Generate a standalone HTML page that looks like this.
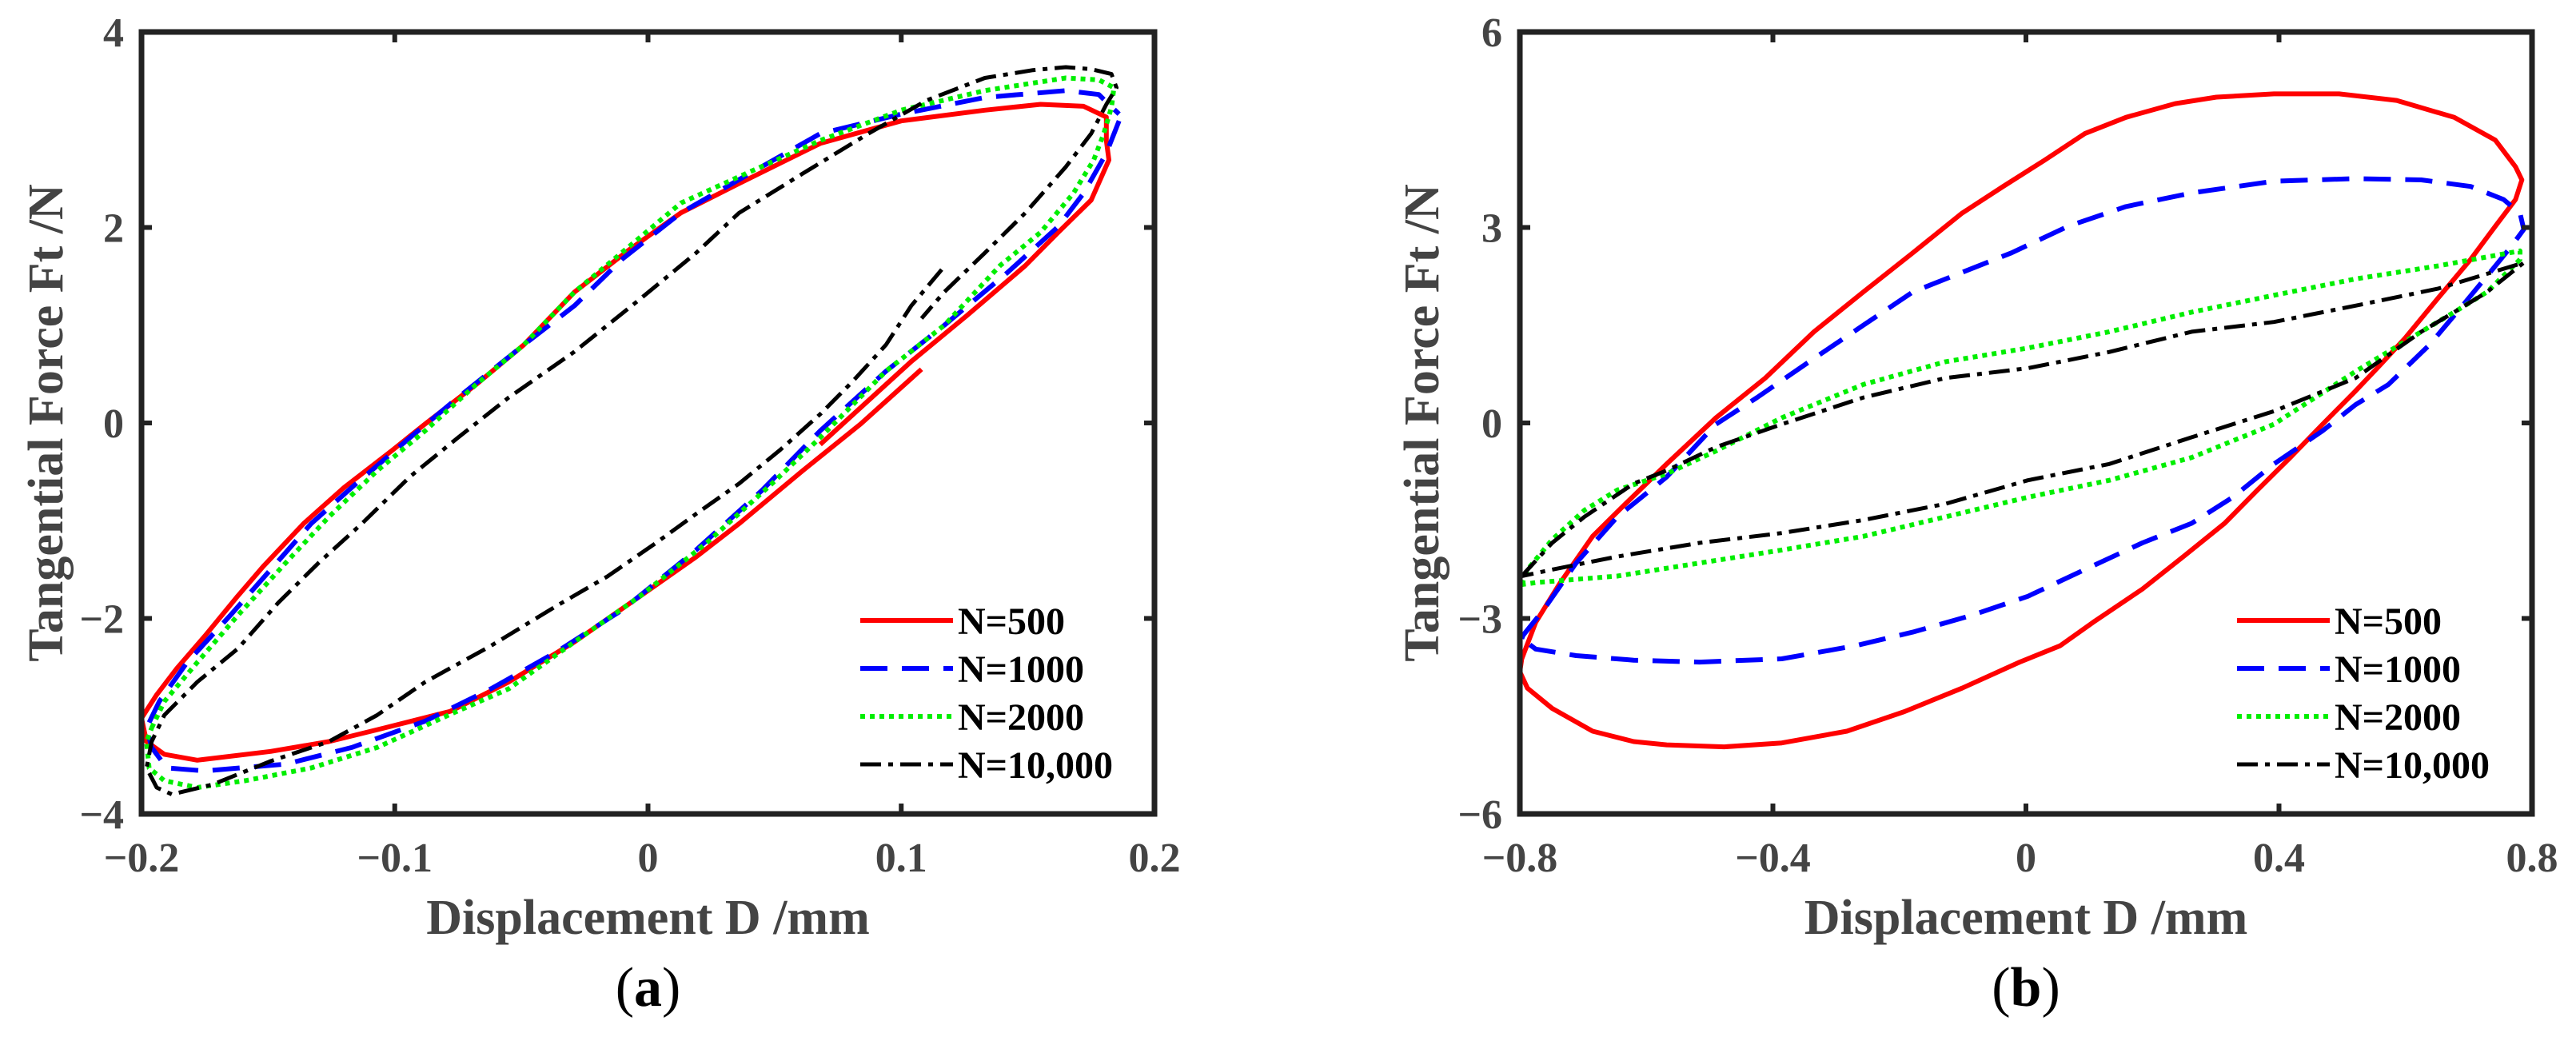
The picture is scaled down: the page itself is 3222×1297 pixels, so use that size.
<!DOCTYPE html>
<html><head><meta charset="utf-8"><style>
html,body{margin:0;padding:0;background:#fff;}
svg{display:block;}
</style></head><body>
<svg id="fig" width="3222" height="1297" viewBox="0 0 3222 1297" xmlns="http://www.w3.org/2000/svg"></svg>
<script>
// ---- Panel (a) data ----
const aXTicks = [-0.2, -0.1, 0, 0.1, 0.2];
const aXTickLabels = ["\u22120.2", "\u22120.1", "0", "0.1", "0.2"];
const aYTicks = [-4, -2, 0, 2, 4];
const aYTickLabels = ["\u22124", "\u22122", "0", "2", "4"];
const aRedX = [0.108,0.084,0.061,0.036,0.019,-0.003,-0.029,-0.055,-0.078,-0.104,-0.126,-0.149,-0.178,-0.191,-0.198,-0.2,-0.194,-0.186,-0.175,-0.162,-0.152,-0.136,-0.12,-0.101,-0.088,-0.068,-0.049,-0.029,-0.007,0.013,0.036,0.068,0.100,0.133,0.155,0.172,0.181,0.181,0.182,0.175,0.162,0.149,0.126,0.104,0.068];
const aRedY = [0.55,-0.01,-0.49,-1.03,-1.37,-1.77,-2.24,-2.65,-2.95,-3.12,-3.26,-3.36,-3.45,-3.39,-3.26,-3.02,-2.78,-2.51,-2.18,-1.77,-1.47,-1.03,-0.66,-0.28,-0.01,0.39,0.80,1.34,1.78,2.15,2.45,2.86,3.09,3.20,3.26,3.24,3.13,2.89,2.69,2.28,1.95,1.61,1.10,0.63,-0.22];
const aBlueX = [0.186,0.181,0.172,0.162,0.142,0.117,0.094,0.068,0.045,0.019,-0.010,-0.036,-0.062,-0.088,-0.117,-0.143,-0.175,-0.190,-0.196,-0.198,-0.193,-0.182,-0.165,-0.149,-0.133,-0.117,-0.094,-0.075,-0.049,-0.029,-0.010,0.013,0.036,0.068,0.100,0.133,0.165,0.178,0.186];
const aBlueY = [3.09,2.76,2.35,2.01,1.54,1.00,0.53,-0.08,-0.69,-1.30,-1.91,-2.34,-2.72,-3.05,-3.32,-3.49,-3.56,-3.53,-3.32,-3.12,-2.85,-2.45,-1.97,-1.50,-1.03,-0.66,-0.15,0.26,0.80,1.20,1.68,2.15,2.49,2.96,3.16,3.33,3.40,3.36,3.16];
const aGreenX = [-0.196,-0.191,-0.178,-0.162,-0.143,-0.126,-0.107,-0.088,-0.068,-0.049,-0.029,-0.010,0.013,0.036,0.068,0.100,0.133,0.165,0.178,0.184,0.183,0.180,0.176,0.168,0.155,0.139,0.117,0.094,0.068,0.049,0.023,-0.003,-0.029,-0.055,-0.078,-0.107,-0.133,-0.159,-0.178,-0.191,-0.197,-0.198,-0.196];
const aGreenY = [-3.12,-2.85,-2.45,-1.97,-1.43,-0.96,-0.49,-0.08,0.39,0.80,1.34,1.75,2.25,2.52,2.89,3.20,3.40,3.53,3.51,3.43,3.23,2.96,2.69,2.35,1.95,1.61,1.00,0.53,-0.15,-0.62,-1.23,-1.77,-2.24,-2.72,-2.98,-3.32,-3.53,-3.66,-3.73,-3.66,-3.53,-3.26,-3.12];
const aBlackX = [0.116,0.104,0.094,0.081,0.068,0.052,0.036,0.019,0.003,-0.016,-0.036,-0.062,-0.088,-0.107,-0.126,-0.149,-0.172,-0.188,-0.194,-0.198,-0.196,-0.191,-0.178,-0.162,-0.146,-0.130,-0.113,-0.094,-0.075,-0.055,-0.029,-0.003,0.019,0.036,0.061,0.087,0.110,0.133,0.152,0.165,0.175,0.183,0.185,0.181,0.175,0.165,0.149,0.133,0.117,0.108];
const aBlackY = [1.57,1.20,0.80,0.43,0.09,-0.28,-0.62,-0.93,-1.23,-1.57,-1.87,-2.28,-2.65,-2.99,-3.26,-3.46,-3.70,-3.80,-3.73,-3.53,-3.26,-2.99,-2.65,-2.31,-1.84,-1.43,-1.03,-0.55,-0.15,0.26,0.73,1.27,1.74,2.15,2.55,2.96,3.30,3.53,3.61,3.64,3.62,3.57,3.43,3.26,2.96,2.62,2.15,1.74,1.34,1.07];

// ---- Panel (b) data ----
const bXTicks = [-0.8, -0.4, 0, 0.4, 0.8];
const bXTickLabels = ["\u22120.8", "\u22120.4", "0", "0.4", "0.8"];
const bYTicks = [-6, -3, 0, 3, 6];
const bYTickLabels = ["\u22126", "\u22123", "0", "3", "6"];
const bRedX = [-0.797,-0.775,-0.736,-0.685,-0.633,-0.568,-0.490,-0.412,-0.335,-0.257,-0.179,-0.101,-0.036,0.029,0.093,0.158,0.236,0.301,0.392,0.495,0.586,0.677,0.742,0.774,0.784,0.774,0.742,0.703,0.651,0.599,0.560,0.521,0.469,0.418,0.366,0.314,0.249,0.184,0.106,0.054,-0.010,-0.101,-0.192,-0.283,-0.386,-0.477,-0.568,-0.620,-0.685,-0.749,-0.788,-0.800,-0.797];
const bRedY = [-3.62,-3.06,-2.45,-1.74,-1.24,-0.63,0.08,0.69,1.40,2.01,2.61,3.22,3.63,4.03,4.44,4.69,4.90,5.00,5.05,5.05,4.95,4.69,4.34,3.93,3.73,3.43,3.02,2.51,1.91,1.30,0.89,0.49,-0.02,-0.53,-1.03,-1.54,-2.05,-2.55,-3.06,-3.42,-3.67,-4.07,-4.43,-4.73,-4.91,-4.97,-4.94,-4.89,-4.73,-4.38,-4.07,-3.82,-3.62];
const bBlueX = [-0.797,-0.795,-0.762,-0.711,-0.646,-0.568,-0.490,-0.425,-0.335,-0.257,-0.179,-0.101,-0.023,0.067,0.158,0.262,0.392,0.521,0.625,0.703,0.755,0.781,0.787,0.768,0.742,0.690,0.638,0.573,0.521,0.469,0.392,0.327,0.262,0.184,0.093,0.003,-0.088,-0.179,-0.270,-0.386,-0.516,-0.620,-0.711,-0.775,-0.797];
const bBlueY = [-3.31,-3.26,-2.86,-2.15,-1.44,-0.83,-0.02,0.39,0.99,1.50,2.01,2.31,2.61,3.02,3.32,3.53,3.71,3.75,3.73,3.63,3.43,3.22,2.97,2.72,2.41,1.80,1.20,0.59,0.28,-0.12,-0.63,-1.14,-1.54,-1.84,-2.25,-2.66,-2.96,-3.21,-3.42,-3.62,-3.67,-3.64,-3.57,-3.47,-3.31];
const bGreenX = [-0.797,-0.788,-0.749,-0.698,-0.646,-0.568,-0.490,-0.386,-0.257,-0.127,0.003,0.132,0.262,0.392,0.521,0.651,0.781,0.781,0.729,0.677,0.625,0.521,0.392,0.262,0.132,0.003,-0.127,-0.257,-0.386,-0.516,-0.646,-0.775,-0.797];
const bGreenY = [-2.48,-2.25,-1.79,-1.34,-1.03,-0.78,-0.43,0.08,0.59,0.94,1.15,1.40,1.70,1.96,2.21,2.41,2.64,2.51,2.01,1.70,1.40,0.79,-0.02,-0.53,-0.88,-1.14,-1.44,-1.74,-1.95,-2.15,-2.35,-2.45,-2.48];
const bBlackX = [-0.797,-0.749,-0.698,-0.620,-0.568,-0.490,-0.386,-0.257,-0.127,0.003,0.132,0.262,0.392,0.521,0.651,0.787,0.729,0.677,0.625,0.521,0.392,0.262,0.132,0.003,-0.127,-0.257,-0.386,-0.516,-0.646,-0.749,-0.797];
const bBlackY = [-2.35,-1.84,-1.44,-0.93,-0.73,-0.37,-0.02,0.39,0.69,0.84,1.09,1.40,1.55,1.80,2.06,2.46,2.01,1.70,1.40,0.69,0.18,-0.22,-0.63,-0.88,-1.24,-1.49,-1.69,-1.84,-2.05,-2.25,-2.35];

const legendLabels = ["N=500", "N=1000", "N=2000", "N=10,000"];

const NS = "http://www.w3.org/2000/svg";
const svg = document.getElementById("fig");
function mk(tag, attrs, parent) {
  const e = document.createElementNS(NS, tag);
  for (const k in attrs) e.setAttribute(k, attrs[k]);
  (parent || svg).appendChild(e);
  return e;
}
const styles = [
  {color: "#ff0000", dash: "", w: 6},
  {color: "#0000ff", dash: "34 18", w: 6},
  {color: "#00ee00", dash: "6 6", w: 6},
  {color: "#000000", dash: "26 9 6 9", w: 5}
];

function panel(p) {
  const g = mk("g", {});
  
  
  const L = p.L, R = p.R, T = 40, B = 1018;
  const sx = v => L + (v - p.xmin) / (p.xmax - p.xmin) * (R - L);
  const sy = v => B - (v - p.ymin) / (p.ymax - p.ymin) * (B - T);
  // series
  p.series.forEach((s, i) => {
    const st = styles[i];
    let d = "";
    for (let k = 0; k < s.x.length; k++) d += (k ? "L" : "M") + sx(s.x[k]).toFixed(1) + " " + sy(s.y[k]).toFixed(1);
    const path = mk("path", {d: d, fill: "none", stroke: st.color, "stroke-width": st.w, "stroke-dasharray": st.dash, "stroke-linejoin": "round"}, g);
    
    
  });
  // ticks
  p.xt.forEach((v, i) => {
    const x = sx(v);
    mk("line", {x1: x, y1: B, x2: x, y2: B - 13, stroke: "#222", "stroke-width": 6}, g);
    mk("line", {x1: x, y1: T, x2: x, y2: T + 13, stroke: "#222", "stroke-width": 6}, g);
    const t = mk("text", {x: x, y: 1090, "text-anchor": "middle", "font-family": "Liberation Serif, serif", "font-weight": "bold", "font-size": 52, fill: "#444"}, g);
    t.textContent = p.xl[i];
    
    
  });
  p.yt.forEach((v, i) => {
    const y = sy(v);
    mk("line", {x1: L, y1: y, x2: L + 13, y2: y, stroke: "#222", "stroke-width": 6}, g);
    mk("line", {x1: R, y1: y, x2: R - 13, y2: y, stroke: "#222", "stroke-width": 6}, g);
    const t = mk("text", {x: L - 22, y: y + 18, "text-anchor": "end", "font-family": "Liberation Serif, serif", "font-weight": "bold", "font-size": 52, fill: "#444"}, g);
    t.textContent = p.yl[i];
    
    
  });
  const box = mk("rect", {x: L, y: T, width: R - L, height: B - T, fill: "none", stroke: "#222", "stroke-width": 7}, g);
  
  
  // legend
  legendLabels.forEach((lab, i) => {
    const y = p.legY + i * 60;
    const st = styles[i];
    const ln = mk("line", {x1: p.legX, y1: y, x2: p.legX + 116, y2: y, stroke: st.color, "stroke-width": st.w, "stroke-dasharray": st.dash}, g);
    
    
    const t = mk("text", {x: p.legX + 122, y: y + 17, "font-family": "Liberation Serif, serif", "font-weight": "bold", "font-size": 48, fill: "#000"}, g);
    t.textContent = lab;
    
    
  });
  const cx = (L + R) / 2;
  const xt = mk("text", {x: cx, y: 1168, "text-anchor": "middle", "font-family": "Liberation Serif, serif", "font-weight": "bold", "font-size": 62, fill: "#444"}, g);
  xt.textContent = "Displacement D /mm";
  
  
  const yt = mk("text", {x: 0, y: 0, transform: "translate(" + (p.yTitleX + 22) + "," + ((T + B) / 2) + ") rotate(-90)", "text-anchor": "middle", "font-family": "Liberation Serif, serif", "font-weight": "bold", "font-size": 62, fill: "#444"}, g);
  yt.textContent = "Tangential Force Ft /N";
  
  
  const cap = mk("text", {x: cx, y: 1258, "text-anchor": "middle", "font-family": "Liberation Serif, serif", "font-size": 70, fill: "#000"}, g);
  cap.innerHTML = '(<tspan font-weight="bold">' + p.cap + '</tspan>)';
  
  
}

panel({name: "panel-a", L: 177, R: 1444, xmin: -0.2, xmax: 0.2, ymin: -4, ymax: 4,
  xt: aXTicks, xl: aXTickLabels, yt: aYTicks, yl: aYTickLabels,
  series: [{x: aRedX, y: aRedY}, {x: aBlueX, y: aBlueY}, {x: aGreenX, y: aGreenY}, {x: aBlackX, y: aBlackY}],
  legX: 1076, legY: 776, yTitleX: 56, cap: "a"});
panel({name: "panel-b", L: 1901, R: 3167, xmin: -0.8, xmax: 0.8, ymin: -6, ymax: 6,
  xt: bXTicks, xl: bXTickLabels, yt: bYTicks, yl: bYTickLabels,
  series: [{x: bRedX, y: bRedY}, {x: bBlueX, y: bBlueY}, {x: bGreenX, y: bGreenY}, {x: bBlackX, y: bBlackY}],
  legX: 2798, legY: 776, yTitleX: 1777, cap: "b"});
</script>
</body></html>
